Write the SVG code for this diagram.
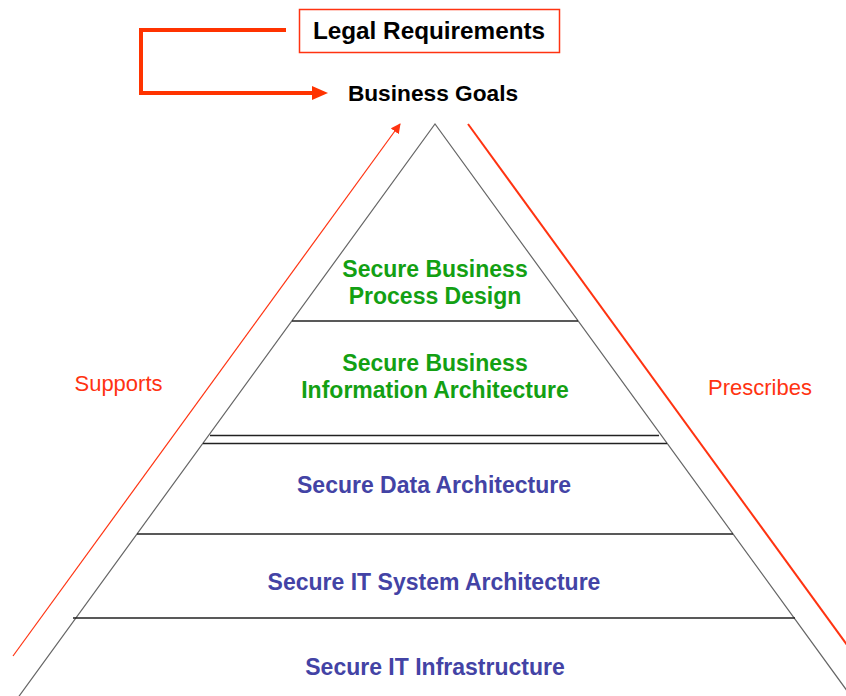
<svg xmlns="http://www.w3.org/2000/svg" width="846" height="696" viewBox="0 0 846 696">
  <style>
    .bold { font-family: "Liberation Sans", Arial, sans-serif; font-weight: bold; text-anchor: middle; }
    .lbl { font-family: "Liberation Sans", Arial, sans-serif; font-size: 22px; fill: #ff3311; text-anchor: middle; }
    .green { fill: #13a013; font-size: 23px; }
    .blue { fill: #4343a5; font-size: 23px; }
    .edge { stroke: #666; stroke-width: 1.2; fill: none; }
    .tier { stroke: #222; stroke-width: 1.5; }
  </style>
  <defs>
    <marker id="tipSmall" viewBox="0 0 10 10" refX="9" refY="5" markerWidth="10" markerHeight="10" markerUnits="userSpaceOnUse" orient="auto">
      <path d="M0,0 L10,5 L0,10 Z" fill="#ff3311"/>
    </marker>
  </defs>
  <rect width="846" height="696" fill="#fff"/>

  <g id="connectors">
    <path d="M286 30 H141 V93 H314" fill="none" stroke="#ff3300" stroke-width="4"/>
    <polygon points="312,86 328,93 312,100" fill="#ff3300"/>
    <line x1="13" y1="656" x2="400" y2="124" stroke="#ff3311" stroke-width="1.2" marker-end="url(#tipSmall)"/>
    <line x1="468" y1="124" x2="850" y2="649" stroke="#ff3311" stroke-width="2"/>
  </g>

  <g id="pyramid">
    <path class="edge" d="M17 699 L435 124 L853 699"/>
    <line class="tier" x1="292" y1="321" x2="578" y2="321"/>
    <line class="tier" x1="210" y1="435.5" x2="659" y2="435.5"/>
    <line class="tier" x1="203" y1="443.5" x2="667" y2="443.5"/>
    <line class="tier" x1="137" y1="534" x2="733" y2="534"/>
    <line class="tier" x1="73" y1="618" x2="795" y2="618"/>
  </g>

  <g id="legal">
    <rect x="299.5" y="9.5" width="260" height="43" fill="#fff" stroke="#ff3311" stroke-width="1.5"/>
    <text class="bold" x="429" y="39" font-size="24.3" fill="#000">Legal Requirements</text>
  </g>
  <g id="goals">
    <text class="bold" x="433" y="101" font-size="22.7" fill="#000">Business Goals</text>
  </g>
  <g id="process">
    <text class="bold green" x="435" y="277">Secure Business</text>
    <text class="bold green" x="435" y="304">Process Design</text>
  </g>
  <g id="information">
    <text class="bold green" x="435" y="371">Secure Business</text>
    <text class="bold green" x="435" y="398">Information Architecture</text>
  </g>
  <g id="data">
    <text class="bold blue" x="434" y="493">Secure Data Architecture</text>
  </g>
  <g id="system">
    <text class="bold blue" x="434" y="590">Secure IT System Architecture</text>
  </g>
  <g id="infrastructure">
    <text class="bold blue" x="435" y="675">Secure IT Infrastructure</text>
  </g>
  <g id="supports">
    <text class="lbl" x="118.5" y="391">Supports</text>
  </g>
  <g id="prescribes">
    <text class="lbl" x="760" y="395">Prescribes</text>
  </g>
</svg>
